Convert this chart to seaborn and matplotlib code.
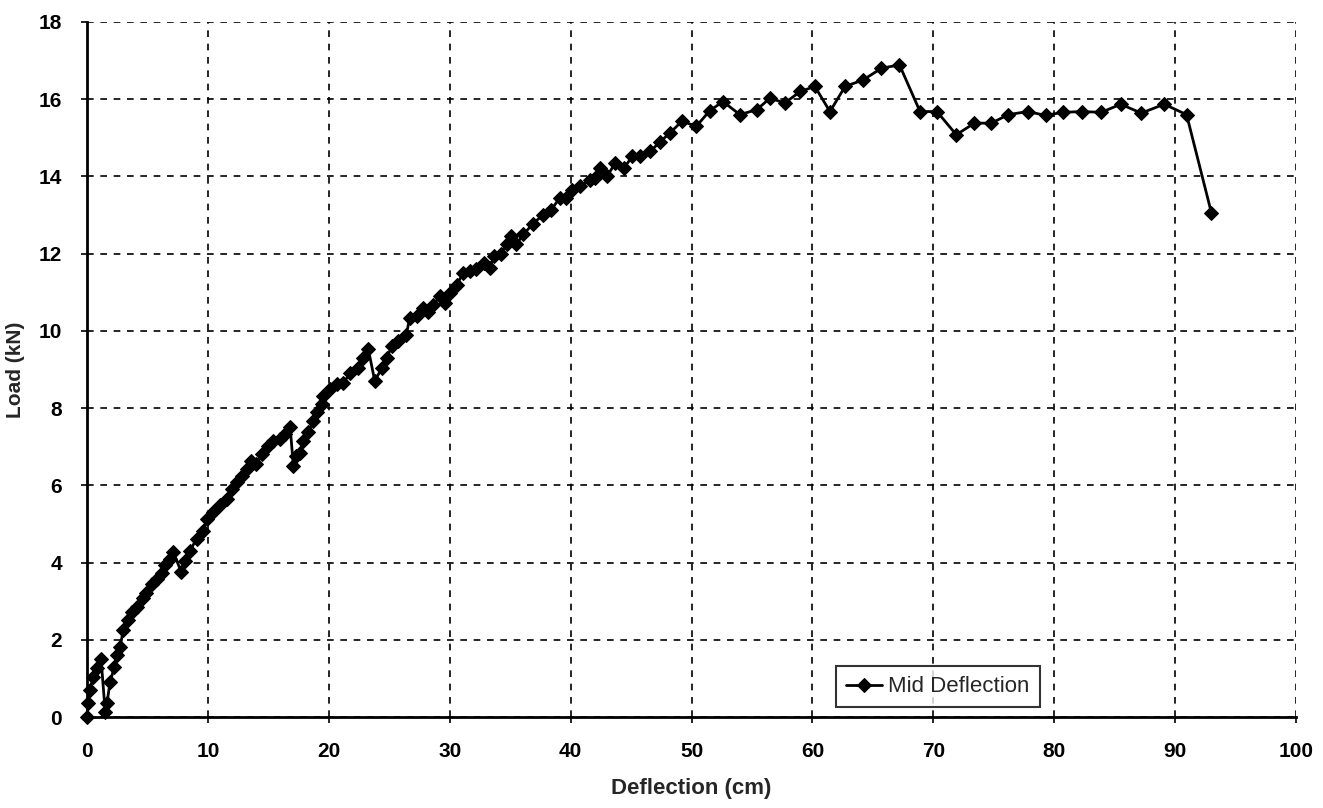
import matplotlib
matplotlib.use("Agg")
import matplotlib.pyplot as plt
import seaborn as sns
import pandas as pd

# Mid-span deflection (cm) and applied load (kN)
deflection = [
    0.0, 0.1, 0.25, 0.5, 0.8, 1.16, 1.5, 1.65, 1.9, 2.26, 2.45, 2.73, 3.0, 3.4,
    3.7, 4.1, 4.66, 4.9, 5.35, 5.76, 6.2, 6.45, 6.86, 7.14, 7.8, 8.1, 8.5, 9.07,
    9.6, 9.9, 10.45, 11.0, 11.55, 11.97, 12.4, 12.8, 13.2, 13.6, 14.0, 14.45,
    15.0, 15.4, 16.0, 16.4, 16.8, 17.07, 17.3, 17.6, 17.9, 18.3, 18.7, 19.0,
    19.4, 19.55, 20.1, 20.65, 21.2, 21.75, 22.4, 22.85, 23.27, 23.8, 24.4,
    24.8, 25.2, 25.75, 26.4, 26.7, 27.3, 27.8, 28.2, 28.65, 29.2, 29.6, 30.0,
    30.6, 31.1, 31.7, 32.2, 32.8, 33.3, 33.7, 34.2, 34.7, 35.1, 35.5, 36.1,
    36.9, 37.7, 38.4, 39.1, 39.6, 40.1, 40.8, 41.6, 42.0, 42.4, 43.0, 43.7,
    44.4, 45.1, 45.7, 46.6, 47.4, 48.2, 49.2, 50.4, 51.5, 52.6, 54.0, 55.4,
    56.5, 57.7, 59.0, 60.2, 61.45, 62.7, 64.2, 65.7, 67.2, 68.9, 70.3, 71.9,
    73.4, 74.8, 76.2, 77.8, 79.3, 80.7, 82.3, 83.9, 85.5, 87.2, 89.1, 90.95,
    93.0,
]
load = [
    0.0, 0.36, 0.7, 1.04, 1.27, 1.5, 0.14, 0.36, 0.9, 1.3, 1.6, 1.82, 2.25, 2.5,
    2.72, 2.85, 3.07, 3.2, 3.45, 3.58, 3.72, 3.93, 4.1, 4.27, 3.75, 4.05, 4.3,
    4.62, 4.83, 5.13, 5.3, 5.48, 5.65, 5.9, 6.08, 6.25, 6.43, 6.64, 6.55, 6.8,
    7.03, 7.15, 7.2, 7.33, 7.5, 6.5, 6.77, 6.85, 7.15, 7.37, 7.67, 7.9, 8.1,
    8.32, 8.5, 8.62, 8.65, 8.9, 9.05, 9.3, 9.52, 8.7, 9.05, 9.3, 9.6, 9.74,
    9.9, 10.34, 10.39, 10.6, 10.5, 10.68, 10.9, 10.73, 10.99, 11.2, 11.5,
    11.55, 11.59, 11.75, 11.63, 11.94, 12.0, 12.24, 12.45, 12.24, 12.5, 12.78,
    13.0, 13.14, 13.44, 13.44, 13.66, 13.75, 13.92, 13.96, 14.21, 14.0, 14.35,
    14.21, 14.52, 14.52, 14.65, 14.9, 15.12, 15.43, 15.3, 15.7, 15.94, 15.6,
    15.73, 16.03, 15.9, 16.2, 16.33, 15.68, 16.33, 16.5, 16.8, 16.89, 15.68,
    15.68, 15.08, 15.38, 15.38, 15.6, 15.68, 15.58, 15.66, 15.68, 15.66,
    15.87, 15.64, 15.87, 15.6, 13.06,
]
series_name = "Mid Deflection"
x_ticks = list(range(0, 101, 10))
y_ticks = list(range(0, 19, 2))

df = pd.DataFrame({"Deflection": deflection, "Load": load,
                   "series": [series_name] * len(deflection)})

sns.set_theme(style="white")
plt.rcParams["font.family"] = ["Liberation Sans", "DejaVu Sans"]
plt.rcParams["font.weight"] = "bold"

fig = plt.figure(figsize=(13.23, 8.08), dpi=100)
ax = fig.add_axes([0.0658, 0.1126, 0.9138, 0.8602])

sns.lineplot(data=df, x="Deflection", y="Load", hue="series",
             palette={series_name: "black"}, marker="D", markersize=7.5,
             markeredgecolor="black", linewidth=2.0, sort=False,
             estimator=None, ax=ax, clip_on=False)

ax.set_xlim(0, 100)
ax.set_ylim(0, 18)
ax.set_xticks(x_ticks)
ax.set_yticks(y_ticks)
ax.grid(True, color="black", linestyle=(0, (4, 4)), linewidth=1.2)
ax.set_axisbelow(True)

for side in ("top", "right"):
    ax.spines[side].set_visible(False)
for side in ("left", "bottom"):
    ax.spines[side].set_color("black")
    ax.spines[side].set_linewidth(2)

ax.tick_params(axis="both", which="major", direction="out", length=4,
               width=1.2, color="black", labelsize=15, colors="black",
               bottom=True, left=True)
ax.tick_params(axis="x", pad=14)
ax.tick_params(axis="y", pad=14)
for lbl in ax.get_xticklabels() + ax.get_yticklabels():
    lbl.set_fontweight("bold")

ax.set_xlabel("Deflection (cm)", fontsize=16, fontweight="bold", labelpad=12)
ax.set_ylabel("Load (kN)", fontsize=15, fontweight="bold", labelpad=10)

leg = ax.legend(loc="lower right", bbox_to_anchor=(0.788, 0.014),
                borderaxespad=0, frameon=True, fancybox=False, fontsize=16,
                handlelength=1.6, borderpad=0.45, handletextpad=0.3)
leg.get_frame().set_edgecolor("black")
leg.get_frame().set_linewidth(1.5)
for t in leg.get_texts():
    t.set_fontweight("normal")

fig.savefig("out.png", dpi=100, facecolor="white")
